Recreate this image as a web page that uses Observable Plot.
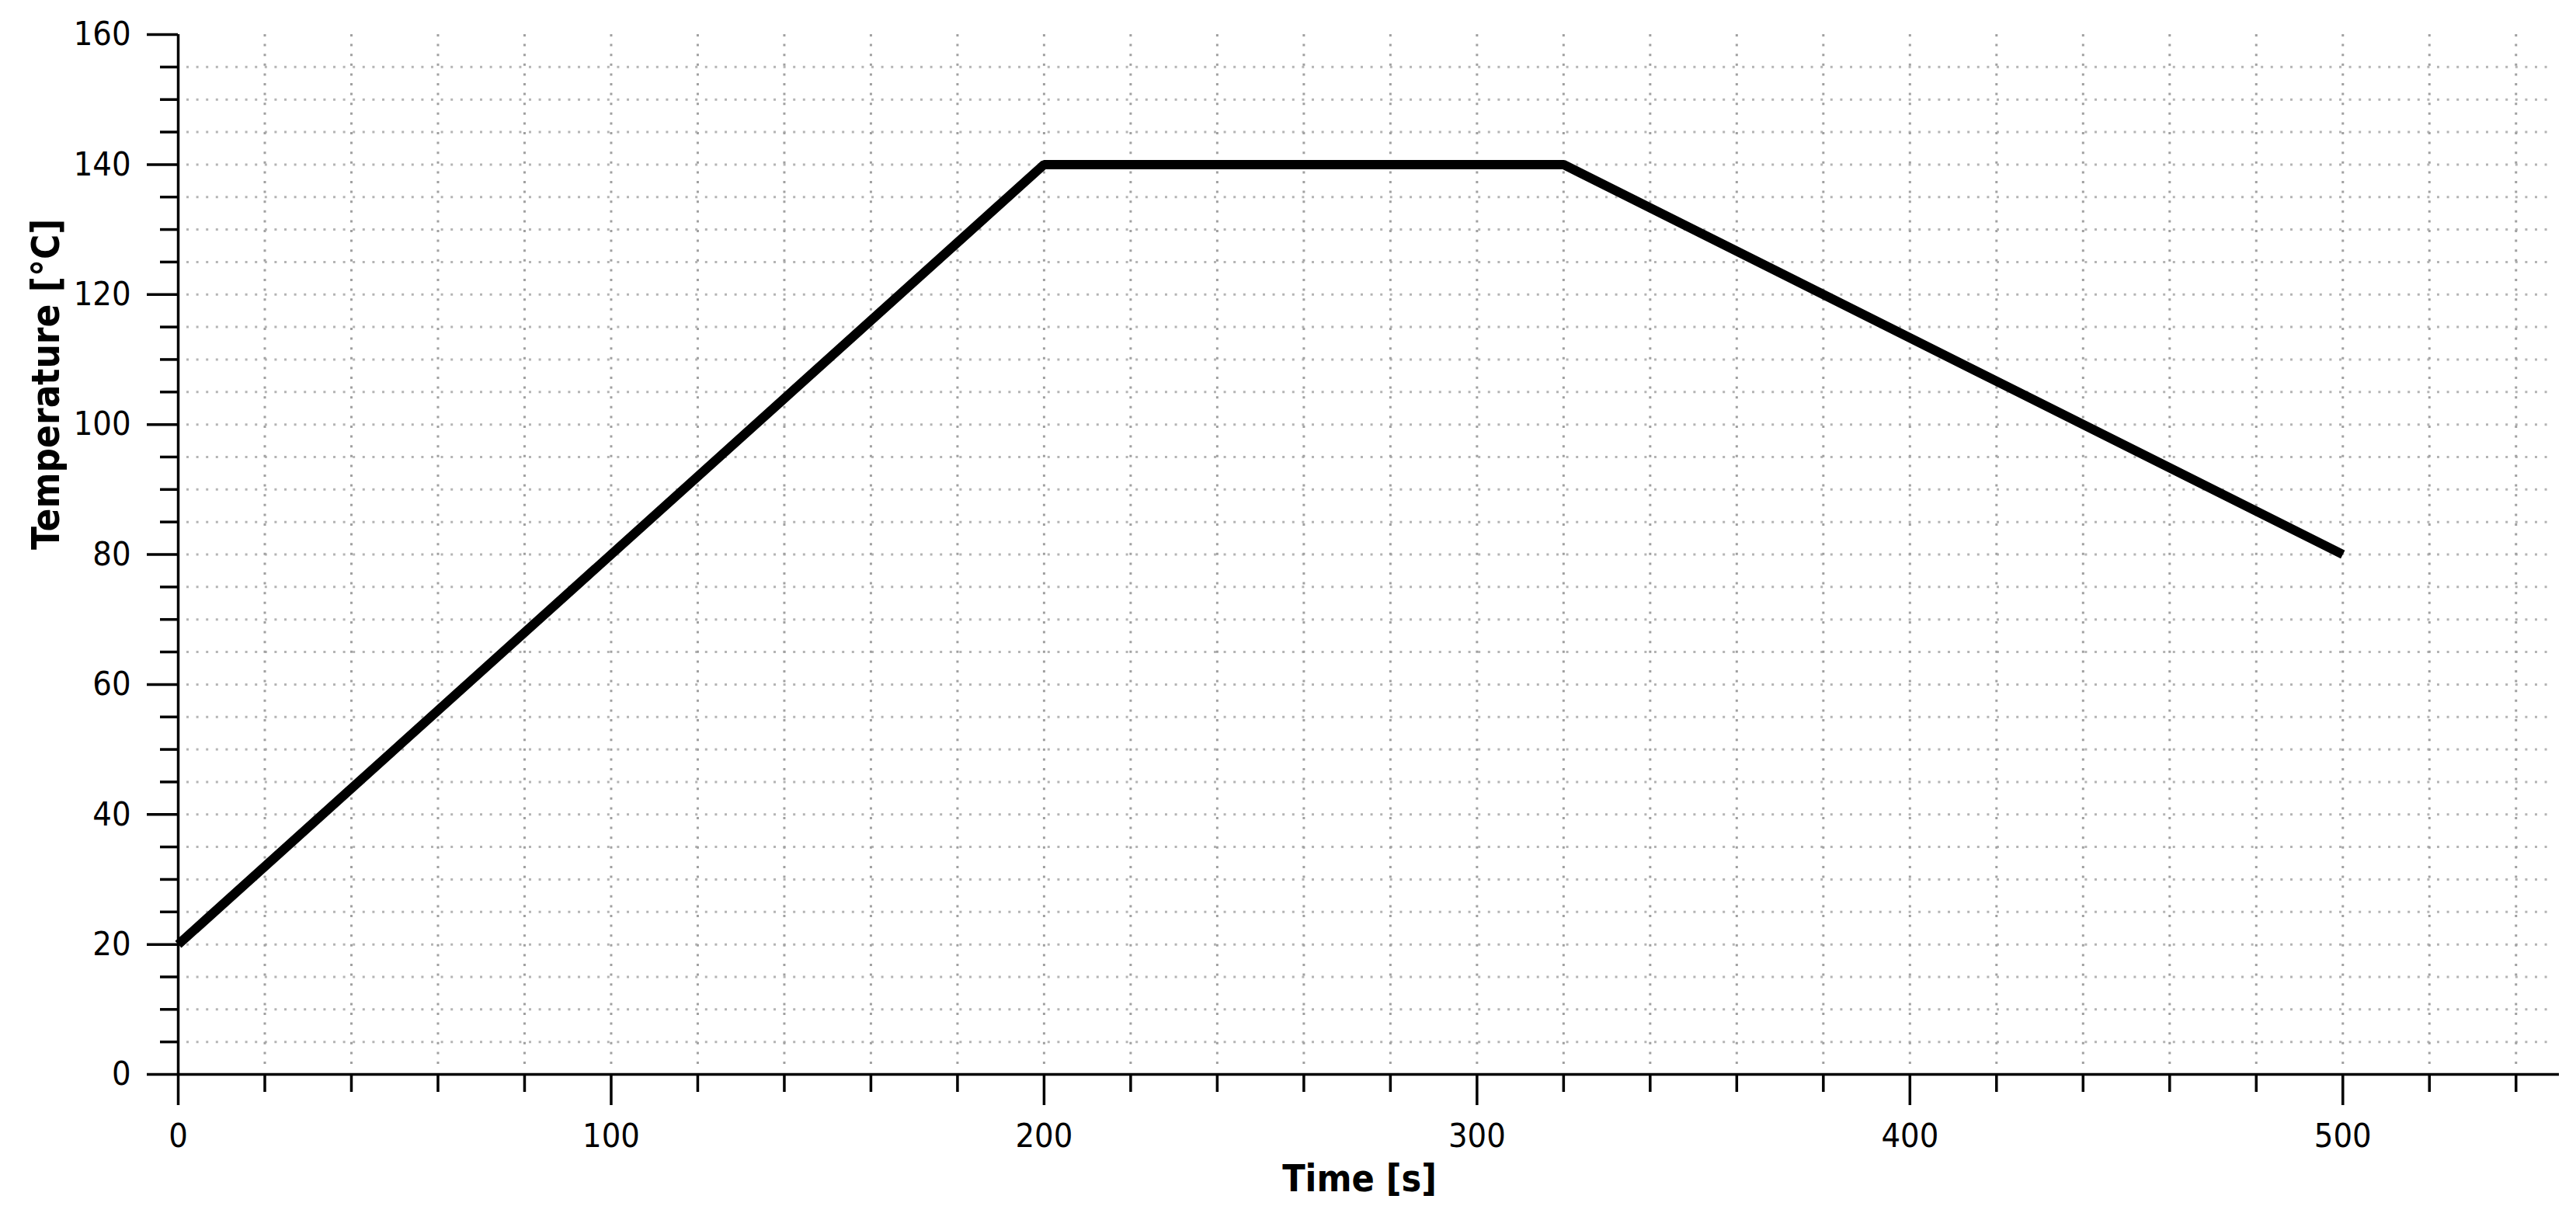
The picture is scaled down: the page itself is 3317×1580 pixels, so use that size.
<!DOCTYPE html>
<html>
<head>
<meta charset="utf-8">
<script src="https://cdn.jsdelivr.net/npm/d3@7"></script>
<script src="https://cdn.jsdelivr.net/npm/@observablehq/plot@0.6"></script>
<style>
  html, body { margin: 0; padding: 0; background: #fff; }
  svg { display: block; }
</style>
</head>
<body>
<div id="chart"></div>
<script>
// Data: temperature profile
const times = [0, 200, 320, 500];
const temps = [20, 140, 140, 80];

// Axis ticks
const xMajorTicks = [0, 100, 200, 300, 400, 500];
const xMinorTicks = [20, 40, 60, 80, 120, 140, 160, 180, 220, 240, 260, 280, 320, 340, 360, 380, 420, 440, 460, 480, 520, 540];
const yMajorTicks = [0, 20, 40, 60, 80, 100, 120, 140, 160];
const yMinorTicks = d3.range(5, 160, 5).filter(v => v % 20 !== 0);
const xGridLines = [...xMinorTicks, 100, 200, 300, 400, 500].sort((a, b) => a - b);
const yGridLines = d3.range(5, 160, 5);

const xDomain = [0, 550];
const yDomain = [0, 160];
const xTitle = "Time [s]";
const yTitle = "Temperature [°C]";

const rows = times.map((t, i) => ({time: t, temp: temps[i]}));

const fontFamily = "'DejaVu Sans Condensed', 'DejaVu Sans', sans-serif";
const dots = "3,9.6";

const chart = Plot.plot({
  width: 3317,
  height: 1580,
  marginLeft: 229,
  marginRight: 22,
  marginTop: 44,
  marginBottom: 197,
  x: {domain: xDomain},
  y: {domain: yDomain},
  style: {fontFamily, fontSize: "43px", color: "#000", background: "#fff", fontStretch: "condensed"},
  marks: [
    // dotted grid
    Plot.ruleY(yGridLines, {x1: xDomain[0], x2: xDomain[1], insetLeft: 11, insetRight: 12,
      stroke: "#b4b4b4", strokeWidth: 3, strokeDasharray: dots}),
    Plot.ruleX(xGridLines, {y1: yDomain[1], y2: yDomain[0], insetBottom: 13,
      stroke: "#a0a0a0", strokeWidth: 3, strokeDasharray: dots}),
    // axis lines
    Plot.ruleX([0], {y1: yDomain[0], y2: yDomain[1], stroke: "#000", strokeWidth: 3.5}),
    Plot.ruleY([0], {x1: xDomain[0], x2: xDomain[1], stroke: "#000", strokeWidth: 3.5}),
    // ticks
    Plot.axisX(xMajorTicks, {tickSize: 40, tickPadding: 23, strokeWidth: 3.5, stroke: "#000", label: null, fontSize: 43}),
    Plot.axisX(xMinorTicks, {tickSize: 23, strokeWidth: 3.5, stroke: "#000", tickFormat: () => "", label: null}),
    Plot.axisY(yMajorTicks, {tickSize: 40, tickPadding: 21, strokeWidth: 3.5, stroke: "#000", label: null, fontSize: 43}),
    Plot.axisY(yMinorTicks, {tickSize: 23, strokeWidth: 3.5, stroke: "#000", tickFormat: () => "", label: null}),
    // axis titles
    Plot.text([xTitle], {frameAnchor: "bottom", dy: 150, dx: -12, fontWeight: "bold", fontSize: 48, fill: "#000"}),
    Plot.text([yTitle], {frameAnchor: "left", rotate: -90, dx: -169, dy: -6, fontWeight: "bold", fontSize: 49, fill: "#000"}),
    // data line
    Plot.line(rows, {x: "time", y: "temp", stroke: "#000", strokeWidth: 12, strokeLinejoin: "miter", strokeLinecap: "butt"})
  ]
});

document.getElementById("chart").appendChild(chart);
</script>
</body>
</html>
